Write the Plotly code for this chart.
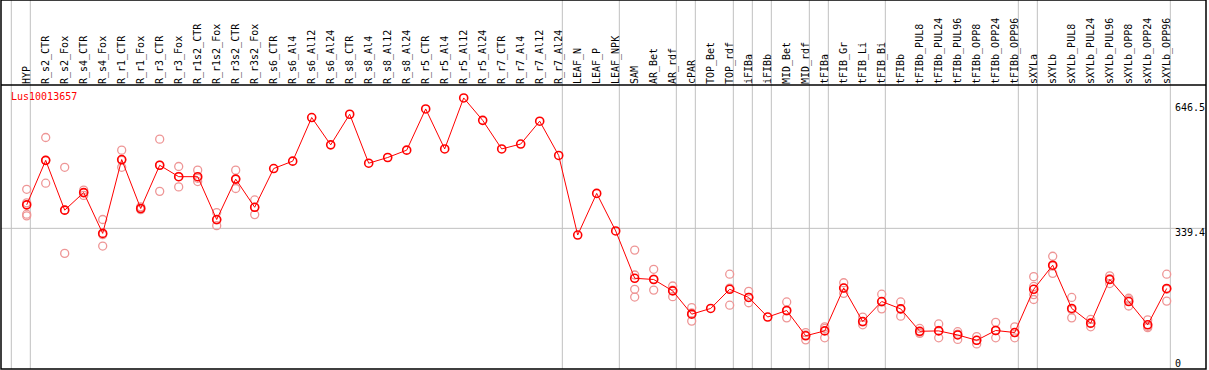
import plotly.graph_objects as go

categories = [
    "HYP", "R_s2_CTR", "R_s2_Fox", "R_s4_CTR", "R_s4_Fox", "R_r1_CTR", "R_r1_Fox",
    "R_r3_CTR", "R_r3_Fox", "R_r1s2_CTR", "R_r1s2_Fox", "R_r3s2_CTR", "R_r3s2_Fox",
    "R_s6_CTR", "R_s6_Al4", "R_s6_Al12", "R_s6_Al24", "R_s8_CTR", "R_s8_Al4",
    "R_s8_Al12", "R_s8_Al24", "R_r5_CTR", "R_r5_Al4", "R_r5_Al12", "R_r5_Al24",
    "R_r7_CTR", "R_r7_Al4", "R_r7_Al12", "R_r7_Al24", "LEAF_N", "LEAF_P", "LEAF_NPK",
    "SAM", "AR_Bet", "AR_rdf", "cPAR", "TOP_Bet", "TOP_rdf", "iFIBa", "iFIBb",
    "MID_Bet", "MID_rdf", "tFIBa", "tFIB_Gr", "tFIB_Li", "tFIB_Bi", "tFIBb",
    "tFIBb_PUL8", "tFIBb_PUL24", "tFIBb_PUL96", "tFIBb_OPP8", "tFIBb_OPP24",
    "tFIBb_OPP96", "sXYLa", "sXYLb", "sXYLb_PUL8", "sXYLb_PUL24", "sXYLb_PUL96",
    "sXYLb_OPP8", "sXYLb_OPP24", "sXYLb_OPP96",
]

means = [
    397, 506, 384, 427, 327, 508, 388, 494, 466, 466, 361, 460, 391,
    486, 504, 611, 544, 619, 499, 513, 531, 632, 534, 659, 604, 534, 546, 602, 518,
    323, 425, 333,
    217, 214, 186, 129, 143, 190, 170, 122, 138, 76, 88, 193, 111, 160, 142,
    87, 88, 78, 65, 89, 84, 190, 249, 143, 107, 214, 160, 103, 192,
]

replicates = [
    [435, 402, 374, 370], [562, 506, 450], [489, 384, 278], [433, 427, 420],
    [361, 324, 296], [531, 506, 489], [392, 388, 385], [558, 494, 430],
    [491, 466, 441], [482, 462, 454], [378, 360, 346], [482, 460, 437],
    [409, 391, 373],
    [], [], [], [], [], [], [], [], [], [], [], [], [], [], [], [],
    [], [], [],
    [286, 225, 190, 171], [239, 215, 188], [198, 188, 172], [145, 132, 112], [],
    [227, 193, 151], [185, 170, 157], [], [159, 137, 120], [84, 78, 66],
    [98, 94, 71], [206, 193, 180], [122, 110, 103], [178, 159, 142],
    [159, 142, 124], [94, 85, 82], [105, 89, 71], [86, 80, 67], [74, 65, 56],
    [109, 89, 71], [98, 84, 71], [221, 197, 177, 165], [271, 247, 229],
    [170, 140, 120], [116, 106, 98], [223, 216, 204], [168, 164, 149],
    [115, 99, 96], [227, 190, 161],
]

main_tick_values = [339.4, 646.5]
main_tick_labels = ["339.4", "646.5"]
zero_tick_values = [0]
zero_tick_labels = ["0"]
group_ends = [-1, 0, 28, 31, 34, 35, 37, 38, 39, 41, 42, 45, 52, 53, 60]
gene_name = "Lus10013657"

FONT = "DejaVu Sans Mono"
X_RANGE = [-1.3526, 62.068]
Y_RANGE = [-5.39, 690.7]
TOP_PAPER = 1.2993

rep_x, rep_y = [], []
for cat, reps in zip(categories, replicates):
    for v in reps:
        rep_x.append(cat)
        rep_y.append(v)

fig = go.Figure()
fig.add_trace(go.Scatter(
    x=rep_x, y=rep_y, mode="markers", yaxis="y", hoverinfo="skip",
    marker=dict(symbol="circle-open", size=8, color="rgb(238,150,150)",
                line=dict(width=1.3, color="rgb(238,150,150)")),
    showlegend=False,
))
fig.add_trace(go.Scatter(
    x=categories, y=means, mode="lines+markers", yaxis="y2",
    line=dict(color="#ff0000", width=1),
    marker=dict(symbol="circle-open", size=8, color="#ff0000",
                line=dict(width=1.6, color="#ff0000")),
    showlegend=False,
))

shapes = []
span = X_RANGE[1] - X_RANGE[0]
for g in group_ends:
    px = (g + 0.19 - X_RANGE[0]) / span
    shapes.append(dict(type="line", xref="paper", yref="paper", x0=px, x1=px,
                       y0=0, y1=TOP_PAPER, line=dict(color="#c0c0c0", width=1),
                       layer="below"))
shapes.append(dict(type="line", xref="x", yref="y", x0=X_RANGE[0], x1=X_RANGE[1],
                   y0=main_tick_values[0], y1=main_tick_values[0],
                   line=dict(color="#c0c0c0", width=1), layer="below"))
shapes.append(dict(type="rect", xref="paper", yref="paper", x0=0, x1=1, y0=0,
                   y1=TOP_PAPER, line=dict(color="black", width=1.5)))
shapes.append(dict(type="line", xref="paper", yref="paper", x0=0, x1=1, y0=1, y1=1,
                   line=dict(color="black", width=1.5)))

fig.update_layout(
    template="none",
    width=1209, height=370,
    margin=dict(l=1, r=3, t=85, b=1, pad=0),
    paper_bgcolor="white", plot_bgcolor="white",
    showlegend=False,
    xaxis=dict(type="category", categoryorder="array", categoryarray=categories,
               range=X_RANGE, side="top", tickangle=-90, ticks="",
               tickfont=dict(family=FONT, size=10, color="black"),
               showgrid=False, showline=False, zeroline=False, automargin=False),
    yaxis=dict(range=Y_RANGE, tickvals=main_tick_values, ticktext=main_tick_labels,
               side="right", anchor="free", position=0.9734, ticks="",
               ticklabelshift=4, ticklabeloverflow="allow",
               tickfont=dict(family=FONT, size=10, color="black"),
               showgrid=False, showline=False, zeroline=False, automargin=False),
    yaxis2=dict(range=Y_RANGE, tickvals=zero_tick_values, ticktext=zero_tick_labels,
                overlaying="y", side="right", anchor="free", position=0.9734,
                ticks="", ticklabelshift=-3, ticklabeloverflow="allow",
                tickfont=dict(family=FONT, size=10, color="black"),
                showgrid=False, showline=False, zeroline=False, automargin=False),
    shapes=shapes,
    annotations=[dict(text=gene_name, xref="paper", yref="paper", x=0.0068,
                      y=0.958, xanchor="left", yanchor="middle", showarrow=False,
                      font=dict(family=FONT, size=10, color="#ff0000"))],
)

fig.write_html("out.html", config={"displayModeBar": False},
               post_script="document.body.style.margin='0px';")
